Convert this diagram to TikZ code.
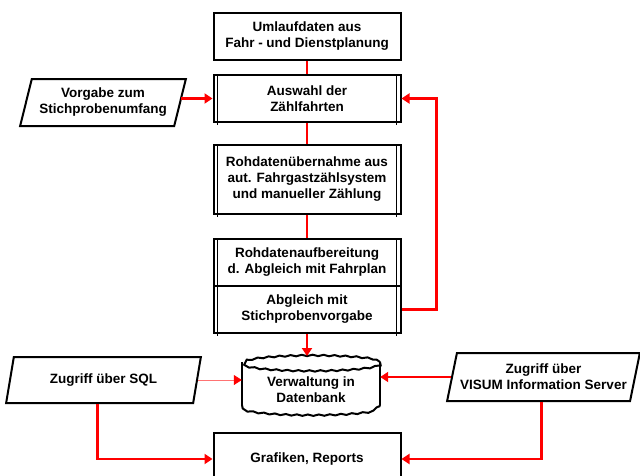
\documentclass[tikz,border=0pt]{standalone}
\usepackage{fontspec}
\setmainfont{Liberation Sans}
\usetikzlibrary{arrows.meta,shapes.geometric,decorations.pathmorphing}

\begin{document}
\begin{tikzpicture}[x=1pt, y=-1pt,
	every node/.style={font=\fontsize{13.5}{16}\selectfont\bfseries, align=center},
	box/.style={draw, line width=2pt, minimum width=187, minimum height=47, inner sep=2pt},
	para/.style={draw, trapezium, trapezium left angle=70, trapezium right angle=110,
		trapezium stretches=true, line width=2pt, inner sep=0pt},
	inner/.style={line width=1.4pt},
	link/.style={red, line width=2.7pt},
	flow/.style={link, -{Triangle[length=8pt,width=10pt]}},
	thinflow/.style={red!55, line width=0.8pt, -{Triangle[length=8pt,width=10pt,fill=red,color=red]}},
	wavy/.style={line width=2pt, decorate, decoration={snake, amplitude=0.7pt, segment length=11pt}}]
	
	\useasboundingbox (0,0) rectangle (640,475);
	\clip (0,0) rectangle (640,475);
	
	% main column
	\node [box] (umlauf) at (307, 36.5) {Umlaufdaten aus\\Fahr - und Dienstplanung};
	\node [box] (auswahl) at (307, 98.5) {Auswahl der\\Zählfahrten};
	\node [box, minimum height=69] (rohueb) at (307, 179.5) {Rohdatenübernahme aus\\aut. Fahrgastzählsystem\\und manueller Zählung};
	\node [box] (aufbA) at (307, 262.5) {Rohdatenaufbereitung\\d. Abgleich mit Fahrplan};
	\node [box] (aufbB) at (307, 309.5) {Abgleich mit\\Stichprobenvorgabe};
	\node [box, minimum height=52] (grafik) at (307, 459) {Grafiken, Reports};
	
	% double lines of the process boxes
	\foreach \n in {auswahl, rohueb, aufbA, aufbB} {
		\draw [inner] ([xshift=5pt]\n.north west) -- ([xshift=5pt, yshift=-2pt]\n.south west);
		\draw [inner] ([xshift=-5pt]\n.north east) -- ([xshift=-5pt, yshift=-2pt]\n.south east);
	}
	
	% inputs
	\node [para, minimum width=166, minimum height=47] (vorgabe) at (103, 102.5) {Vorgabe zum\\Stichprobenumfang};
	\node [para, minimum width=195, minimum height=46] (sql) at (103.5, 380) {Zugriff über SQL};
	\node [para, minimum width=193, minimum height=48] (visum) at (543.5, 377) {Zugriff über\\VISUM Information Server};
	
	% database
	\node [minimum width=138, minimum height=44] (db) at (311, 390) {Verwaltung in\\Datenbank};
	\draw [wavy] (311, 362) ellipse [x radius=69, y radius=7];
	\draw [line width=2pt] (242, 362) -- (242, 405);
	\draw [line width=2pt] (380, 362) -- (380, 405);
	\draw [wavy] (242, 405) arc [start angle=180, end angle=0, x radius=69, y radius=7];
	
	% connectors
	\draw [link] (umlauf) -- (auswahl);
	\draw [link] (auswahl) -- (rohueb);
	\draw [link] (rohueb) -- (aufbA);
	\draw [flow] (vorgabe.east |- auswahl.west) -- (auswahl.west);
	\draw [flow] (aufbB.east) -- ++(35, 0) |- (auswahl.east);
	\draw [flow] (aufbB.south) -- ++(0, 22);
	\draw [thinflow] (sql.east) -- (sql.east -| db.west);
	\draw [flow] (visum.west) -- (visum.west -| db.east);
	\draw [flow] ([xshift=-6pt]sql.south) |- (grafik.west);
	\draw [flow] ([xshift=-2pt]visum.south) |- (grafik.east);
	
\end{tikzpicture}
\end{document}
